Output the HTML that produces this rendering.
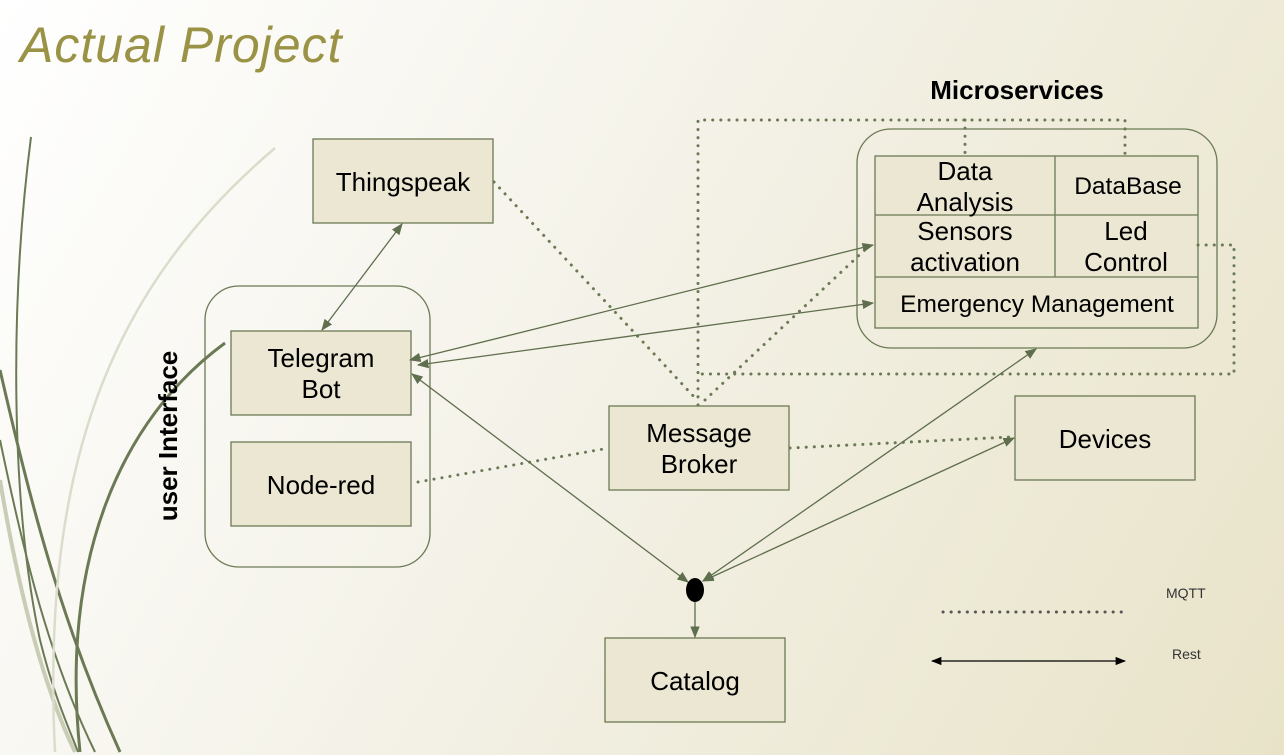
<!DOCTYPE html>
<html><head><style>
body{margin:0;width:1284px;height:755px;overflow:hidden;background:linear-gradient(120deg,#ffffff 0%,#f4f2e8 45%,#e8e3c8 100%);font-family:"Liberation Sans",sans-serif;}
svg{position:absolute;left:0;top:0}
</style></head><body>
<svg width="1284" height="755" viewBox="0 0 1284 755">
<defs>
<marker id="a" viewBox="0 0 10 10" refX="9" refY="5" markerWidth="9" markerHeight="9" orient="auto-start-reverse"><path d="M0,1 L10,5 L0,9 z" fill="#5f6e4c"/></marker>
<marker id="b" viewBox="0 0 10 10" refX="9" refY="5" markerWidth="8" markerHeight="8" orient="auto-start-reverse"><path d="M0,1 L10,5 L0,9 z" fill="#000"/></marker>
</defs>
<g fill="none">
<path d="M31,137 C10,300 10,500 40,640 C55,700 70,730 78,752" stroke="#6b7a55" stroke-width="2"/>
<path d="M0,370 C30,500 60,620 120,752" stroke="#6b7a55" stroke-width="3"/>
<path d="M0,440 C25,560 50,660 95,752" stroke="#6b7a55" stroke-width="2"/>
<path d="M0,480 C20,600 45,690 75,752" stroke="#c9cdb6" stroke-width="4"/>
<path d="M275,148 C120,280 40,450 55,752" stroke="#dcdccc" stroke-width="2.5"/>
<path d="M225,343 C120,420 60,560 80,752" stroke="#6b7a55" stroke-width="3"/>
</g>
<text x="20" y="62" font-size="50" font-style="italic" fill="#9a9245" letter-spacing="1">Actual Project</text>
<text x="1017" y="99" font-size="26" font-weight="bold" text-anchor="middle" fill="#000">Microservices</text>
<text transform="translate(177,436) rotate(-90)" font-size="26" font-weight="bold" text-anchor="middle" fill="#000">user Interface</text>
<g stroke="#6b7a55" stroke-width="1.3" fill="none">
<rect x="205" y="286" width="225" height="281" rx="34"/>
<rect x="857" y="129" width="360" height="219" rx="34"/>
</g>
<g stroke="#6b7a55" stroke-width="1.3" fill="#ebe7d2">
<rect x="313" y="139" width="180" height="84"/>
<rect x="231" y="331" width="180" height="84"/>
<rect x="231" y="442" width="180" height="84"/>
<rect x="609" y="406" width="180" height="84"/>
<rect x="1015" y="396" width="180" height="84"/>
<rect x="605" y="638" width="180" height="84"/>
<rect x="875" y="156" width="323" height="172"/>
</g>
<g stroke="#6b7a55" stroke-width="1.3">
<line x1="875" y1="215" x2="1198" y2="215"/>
<line x1="875" y1="277" x2="1198" y2="277"/>
<line x1="1055" y1="156" x2="1055" y2="277"/>
</g>
<g font-size="26" text-anchor="middle" fill="#000">
<text x="403" y="191">Thingspeak</text>
<text x="321" y="367">Telegram</text><text x="321" y="398">Bot</text>
<text x="321" y="494">Node-red</text>
<text x="699" y="442">Message</text><text x="699" y="473">Broker</text>
<text x="1105" y="448">Devices</text>
<text x="695" y="690">Catalog</text>
<text x="965" y="180">Data</text><text x="965" y="211">Analysis</text>
<text x="1128" y="194" font-size="24.5">DataBase</text>
<text x="965" y="240">Sensors</text><text x="965" y="271">activation</text>
<text x="1126" y="240">Led</text><text x="1126" y="271">Control</text>
<text x="1037" y="312" font-size="24.5">Emergency Management</text>
</g>
<g stroke="#6b7a55" stroke-width="3" stroke-dasharray="0.1 8" stroke-linecap="round" fill="none">
<line x1="494" y1="182" x2="697" y2="400"/>
<line x1="705" y1="400" x2="870" y2="245"/>
<line x1="418" y1="482" x2="609" y2="448"/>
<line x1="790" y1="448" x2="1010" y2="437"/>
<polyline points="698,405 698,120 1125,120 1125,155"/>
<line x1="965" y1="120" x2="965" y2="155"/>
<polyline points="1198,245 1234,245 1234,374 698,374"/>
<line x1="943" y1="612" x2="1122" y2="612" stroke="#555"/>
</g>
<g stroke="#5f6e4c" stroke-width="1.3" fill="none" marker-start="url(#a)" marker-end="url(#a)">
<line x1="402" y1="224" x2="322" y2="330"/>
<line x1="410" y1="360" x2="873" y2="245"/>
<line x1="418" y1="365" x2="873" y2="303"/>
<line x1="412" y1="374" x2="688" y2="582"/>
<line x1="703" y1="581" x2="1036" y2="349"/>
<line x1="703" y1="581" x2="1014" y2="438"/>
</g>
<line x1="695" y1="602" x2="695" y2="637" stroke="#5f6e4c" stroke-width="1.3" marker-end="url(#a)"/>
<ellipse cx="695" cy="590" rx="9" ry="12" fill="#000"/>
<line x1="932" y1="661" x2="1125" y2="661" stroke="#000" stroke-width="1.3" marker-start="url(#b)" marker-end="url(#b)"/>
<text x="1166" y="598" font-size="14" fill="#333">MQTT</text>
<text x="1172" y="659" font-size="14" fill="#333">Rest</text>
</svg>
</body></html>
